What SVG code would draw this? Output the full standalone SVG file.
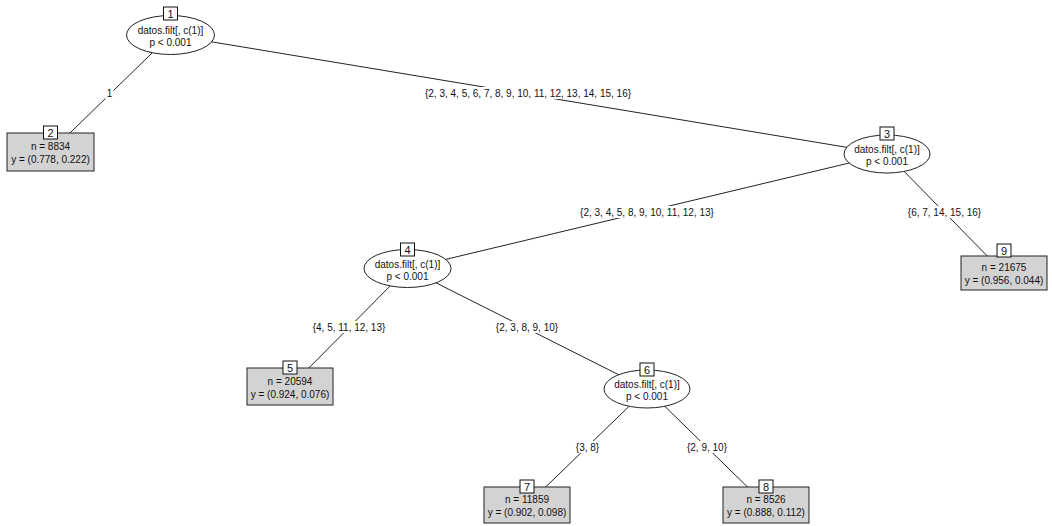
<svg xmlns="http://www.w3.org/2000/svg" width="1052" height="526" viewBox="0 0 1052 526">
<style>
text{font-family:"Liberation Sans",Arial,sans-serif;font-size:10px;fill:#111;text-anchor:middle}
.edge{stroke:#222;stroke-width:1;fill:none}
.lbg{fill:#fff;stroke:none}
.inner{fill:#fff;stroke:#222;stroke-width:1}
.leaf{fill:#d3d3d3;stroke:#222;stroke-width:1}
.idb{fill:#fff;stroke:#111;stroke-width:1}
.id{font-size:11px}
</style>
<rect width="1052" height="526" fill="#fff"/>
<g id="connectors">
<line class="edge" x1="170.5" y1="35" x2="50.5" y2="152"/>
<line class="edge" x1="170.5" y1="35" x2="887" y2="154"/>
<line class="edge" x1="887" y1="154" x2="407.5" y2="268.5"/>
<line class="edge" x1="887" y1="154" x2="1004" y2="273"/>
<line class="edge" x1="407.5" y1="268.5" x2="290" y2="387"/>
<line class="edge" x1="407.5" y1="268.5" x2="647" y2="389"/>
<line class="edge" x1="647" y1="389" x2="527" y2="505"/>
<line class="edge" x1="647" y1="389" x2="766" y2="505"/>
<rect class="lbg" x="105.5" y="87" width="8" height="12"/>
<text x="109.5" y="97">1</text>
<rect class="lbg" x="432" y="87" width="192" height="12"/>
<text x="528" y="97">{2, 3, 4, 5, 6, 7, 8, 9, 10, 11, 12, 13, 14, 15, 16}</text>
<rect class="lbg" x="576" y="206" width="142" height="12"/>
<text x="647" y="216">{2, 3, 4, 5, 8, 9, 10, 11, 12, 13}</text>
<rect class="lbg" x="906" y="206" width="77" height="12"/>
<text x="944.5" y="216">{6, 7, 14, 15, 16}</text>
<rect class="lbg" x="311" y="321" width="77" height="12"/>
<text x="349" y="331">{4, 5, 11, 12, 13}</text>
<rect class="lbg" x="494" y="321" width="66" height="12"/>
<text x="527" y="331">{2, 3, 8, 9, 10}</text>
<rect class="lbg" x="574" y="441" width="27" height="12"/>
<text x="587.5" y="451">{3, 8}</text>
<rect class="lbg" x="686" y="441" width="44" height="12"/>
<text x="707" y="451">{2, 9, 10}</text>
</g>
<g id="node1">
<ellipse class="inner" cx="170.5" cy="35" rx="44" ry="19.5"/>
<text x="170.5" y="34">datos.filt[, c(1)]</text>
<text x="170.5" y="46">p &lt; 0.001</text>
<rect class="idb" x="163.5" y="7" width="14" height="13"/>
<text class="id" x="170.5" y="18">1</text>
</g>
<g id="node2">
<rect class="leaf" x="7" y="133" width="87" height="38"/>
<text x="50.5" y="150">n = 8834</text>
<text x="50.5" y="163">y = (0.778, 0.222)</text>
<rect class="idb" x="43.5" y="126" width="14" height="13"/>
<text class="id" x="50.5" y="137">2</text>
</g>
<g id="node3">
<ellipse class="inner" cx="887" cy="154" rx="43" ry="19"/>
<text x="887" y="153">datos.filt[, c(1)]</text>
<text x="887" y="165">p &lt; 0.001</text>
<rect class="idb" x="880" y="127" width="14" height="13"/>
<text class="id" x="887" y="138">3</text>
</g>
<g id="node4">
<ellipse class="inner" cx="407.5" cy="268.5" rx="43.5" ry="19"/>
<text x="407.5" y="267.5">datos.filt[, c(1)]</text>
<text x="407.5" y="279.5">p &lt; 0.001</text>
<rect class="idb" x="400.5" y="243" width="14" height="13"/>
<text class="id" x="407.5" y="254">4</text>
</g>
<g id="node5">
<rect class="leaf" x="247" y="368" width="86" height="37"/>
<text x="290" y="385">n = 20594</text>
<text x="290" y="398">y = (0.924, 0.076)</text>
<rect class="idb" x="283" y="361" width="14" height="13"/>
<text class="id" x="290" y="372">5</text>
</g>
<g id="node6">
<ellipse class="inner" cx="647" cy="389" rx="43" ry="19"/>
<text x="647" y="388">datos.filt[, c(1)]</text>
<text x="647" y="400">p &lt; 0.001</text>
<rect class="idb" x="640" y="363" width="14" height="13"/>
<text class="id" x="647" y="374">6</text>
</g>
<g id="node7">
<rect class="leaf" x="484" y="487" width="86" height="36"/>
<text x="527" y="503">n = 11859</text>
<text x="527" y="516">y = (0.902, 0.098)</text>
<rect class="idb" x="520" y="480" width="14" height="13"/>
<text class="id" x="527" y="491">7</text>
</g>
<g id="node8">
<rect class="leaf" x="723" y="487" width="86" height="36"/>
<text x="766" y="503">n = 8526</text>
<text x="766" y="516">y = (0.888, 0.112)</text>
<rect class="idb" x="759" y="480" width="14" height="13"/>
<text class="id" x="766" y="491">8</text>
</g>
<g id="node9">
<rect class="leaf" x="961" y="256" width="86" height="34"/>
<text x="1004" y="271">n = 21675</text>
<text x="1004" y="284">y = (0.956, 0.044)</text>
<rect class="idb" x="997" y="244" width="14" height="13"/>
<text class="id" x="1004" y="255">9</text>
</g>
</svg>
